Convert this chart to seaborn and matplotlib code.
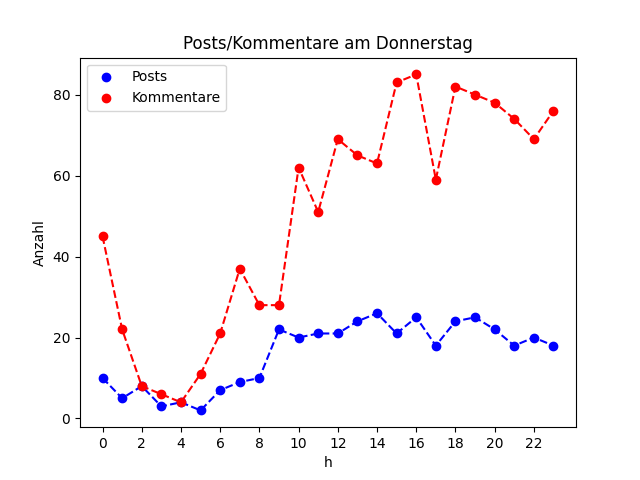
import numpy as np
import matplotlib
matplotlib.use("Agg")
import matplotlib.pyplot as plt
import seaborn as sns

hours = list(range(24))
posts = [10, 5, 8, 3, 4, 2, 7, 9, 10, 22, 20, 21, 21, 24, 26, 21, 25, 18, 24, 25, 22, 18, 20, 18]
kommentare = [45, 22, 8, 6, 4, 11, 21, 37, 28, 28, 62, 51, 69, 65, 63, 83, 85, 59, 82, 80, 78, 74, 69, 76]
xticks = list(range(0, 24, 2))

fig, ax = plt.subplots(figsize=(6.4, 4.8), dpi=100)

# dashed connecting lines
sns.lineplot(x=hours, y=posts, ax=ax, color="blue", linestyle="--", legend=False)
sns.lineplot(x=hours, y=kommentare, ax=ax, color="red", linestyle="--", legend=False)

# markers (these go in the legend)
sns.scatterplot(x=hours, y=posts, ax=ax, color="blue", s=36, linewidth=1,
                edgecolor="blue", label="Posts", zorder=3)
sns.scatterplot(x=hours, y=kommentare, ax=ax, color="red", s=36, linewidth=1,
                edgecolor="red", label="Kommentare", zorder=3)

ax.set_xticks(xticks)
ax.set_title("Posts/Kommentare am Donnerstag")
ax.set_xlabel("h")
ax.set_ylabel("Anzahl")
ax.legend(loc="upper left")

plt.savefig("out.png")
